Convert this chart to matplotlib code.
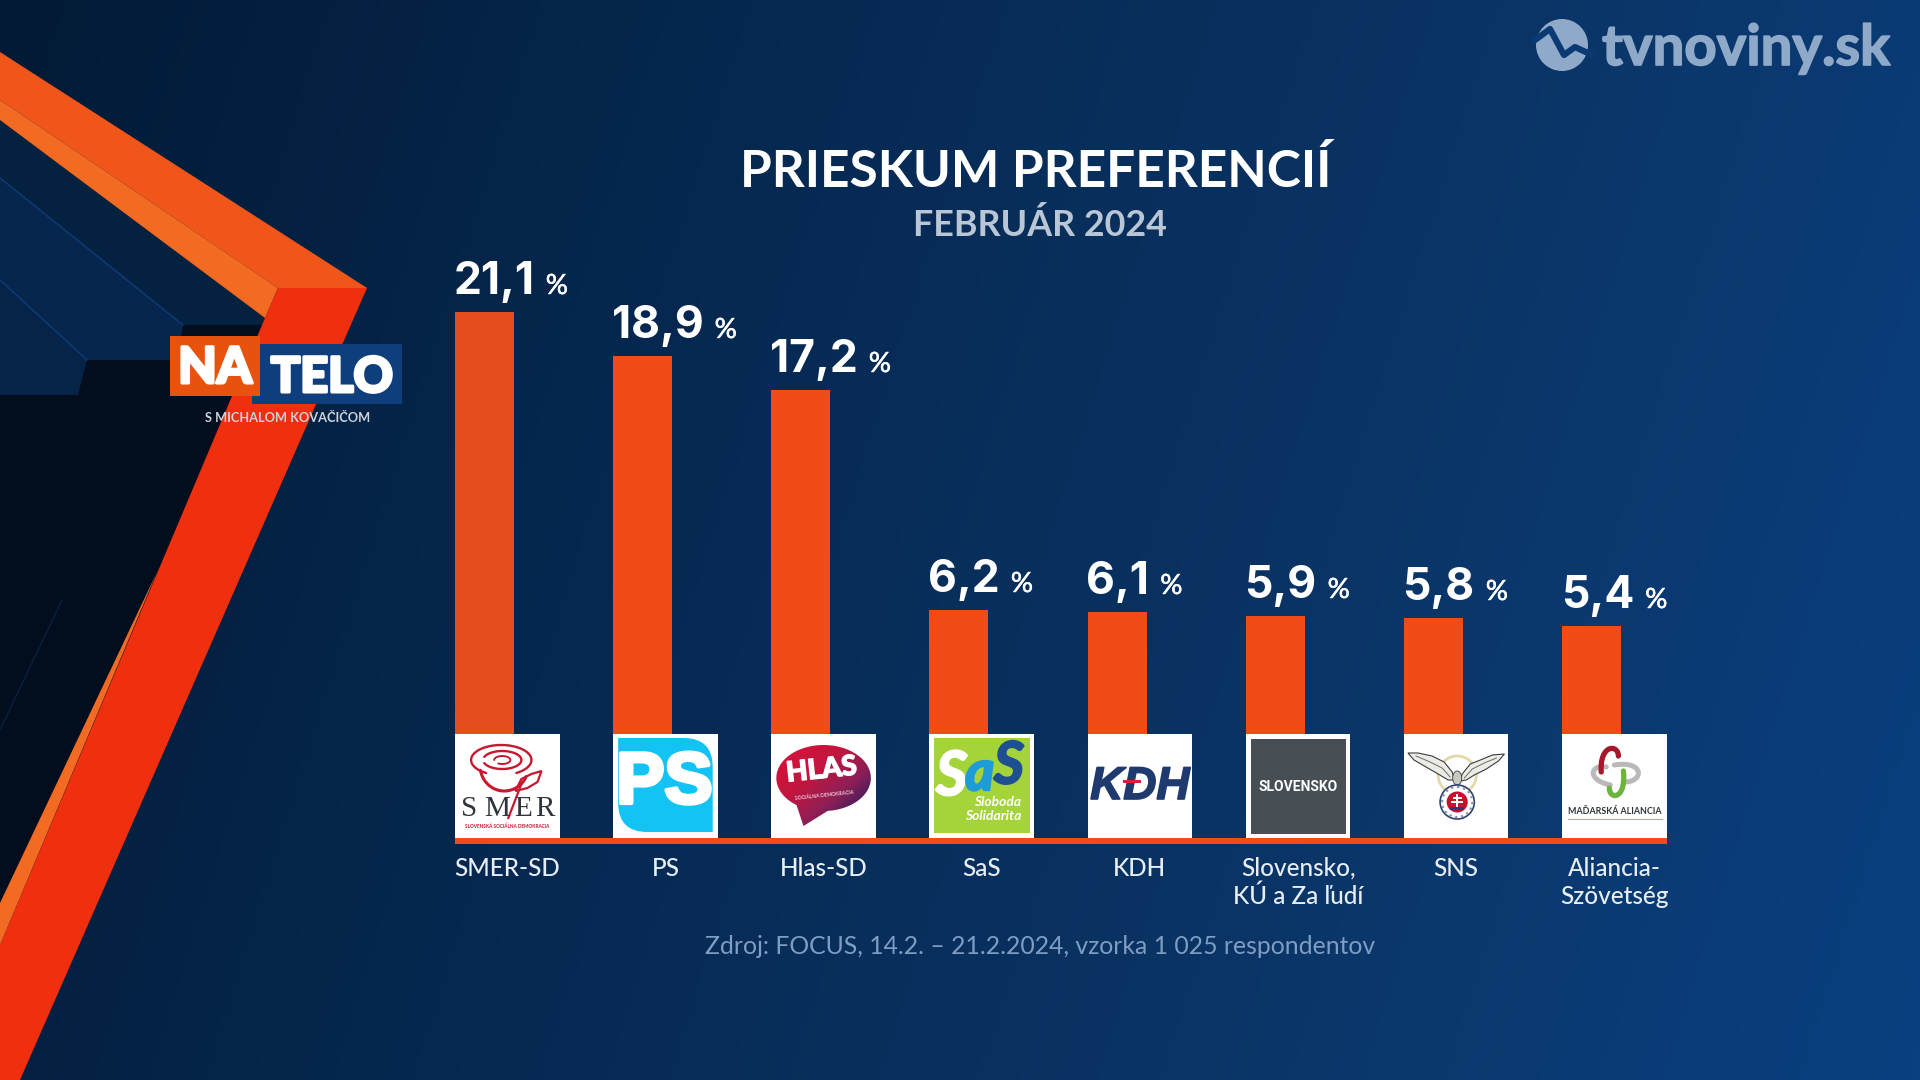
import numpy as np
import matplotlib
matplotlib.use("Agg")
import matplotlib.pyplot as plt
import matplotlib.patheffects as pe
from matplotlib.colors import LinearSegmentedColormap
from matplotlib.patches import Circle, Ellipse, PathPatch, Polygon, Rectangle
from matplotlib.path import Path

plt.rcParams["font.family"] = ["Lato", "DejaVu Sans"]

# Data
parties = ["SMER-SD", "PS", "Hlas-SD", "SaS", "KDH", "Slovensko,\nKÚ a Za ľudí", "SNS", "Aliancia-\nSzövetség"]
values = [21.1, 18.9, 17.2, 6.2, 6.1, 5.9, 5.8, 5.4]
bar_colors = ["#e64d1d", "#f04b18", "#f04b18", "#f04b18", "#f04b18", "#f04b18", "#f04b18", "#f04b18"]

title = "PRIESKUM PREFERENCIÍ"
subtitle = "FEBRUÁR 2024"
source = "Zdroj: FOCUS, 14.2. – 21.2.2024, vzorka 1 025 respondentov"

STEP = 158.15  # px between two parties
PX_PER_UNIT = 20.0


def thick(width, color="white"):
    # the fonts in the picture are heavier than Lato bold
    return [pe.withStroke(linewidth=width, foreground=color)]


fig = plt.figure(figsize=(19.2, 10.8), dpi=100)

# Background
bg = fig.add_axes([0, 0, 1, 1])
xx, yy = np.meshgrid(np.linspace(0, 1, 384), np.linspace(0, 1, 216))
grad = LinearSegmentedColormap.from_list("bg", ["#021a35", "#062850", "#0a3465", "#0b4080"])
bg.imshow(0.85 * xx + 0.15 * yy, cmap=grad, extent=(0, 1920, 1080, 0), aspect="auto", vmin=0, vmax=1)
bg.set_xlim(0, 1920)
bg.set_ylim(1080, 0)
bg.axis("off")


# Left side shapes
def poly(pts, color, z=1):
    bg.add_patch(Polygon(pts, closed=True, facecolor=color, edgecolor="none", zorder=z))


poly([(0, 120), (265, 318), (273, 325), (183, 325), (0, 178)], "#04213f")
poly([(0, 178), (183, 325), (178, 360), (87, 360), (0, 280)], "#06264d")
poly([(0, 280), (87, 360), (78, 395), (0, 395)], "#062447")
poly([(0, 395), (78, 395), (87, 360), (178, 360), (183, 325), (273, 325), (200, 480), (0, 945)], "#020e1e", 2)
bg.plot([0, 183], [178, 325], color="#0d3c7c", lw=1, zorder=3)
bg.plot([0, 87], [280, 360], color="#0d3c7c", lw=1, zorder=3)
bg.plot([62, 0], [600, 730], color="#07203f", lw=1, zorder=3)
poly([(0, 52), (367, 288), (278, 288), (0, 100)], "#f0561a", 4)
poly([(0, 100), (278, 288), (265, 318), (0, 120)], "#f36a22", 4)
poly([(278, 288), (367, 288), (20, 1080), (0, 1080), (0, 945), (265, 318)], "#ef2f0e", 4)
poly([(157, 572), (0, 903), (0, 945)], "#f36a22", 4)

# NA TELO logo
bg.add_patch(Rectangle((252, 344), 150, 60, facecolor="#0e3e7b", zorder=5))
bg.add_patch(Rectangle((170, 336), 90, 60, facecolor="#e8520f", zorder=6))
bg.text(215, 383, "NA", color="white", fontsize=36, fontweight=900, ha="center", va="baseline", zorder=7,
        path_effects=thick(2.2))
bg.text(332, 392, "TELO", color="white", fontsize=35, fontweight=900, ha="center", va="baseline", zorder=7,
        path_effects=thick(2.2))
bg.text(288, 418, "S MICHALOM KOVAČIČOM", color="#ccd3dc", fontsize=9.2, fontweight="bold", ha="center", va="center", zorder=7)

# tvnoviny.sk logo
wm = "#8fa9c9"
bg.add_patch(Circle((1562, 45), 26, facecolor=wm, edgecolor="none", zorder=2))
bg.plot([1535, 1550, 1564, 1575, 1590], [40, 29, 55, 47, 54], color="#0a3a74", lw=4.5, zorder=3, solid_joinstyle="round")
bg.text(1602, 65, "tvnoviny.sk", color=wm, fontsize=40.5, fontweight="bold", ha="left", va="baseline",
        path_effects=thick(1.2, wm))

# Titles
bg.text(1036, 187, title, color="white", fontsize=37, fontweight="bold", ha="center", va="baseline")
bg.text(1040, 236, subtitle, color="#b9c6d6", fontsize=25.8, fontweight="bold", ha="center", va="baseline")
bg.text(1040, 947, source, color="#7f9dc2", fontsize=17.8, ha="center", va="center")

# Bars
ax = fig.add_axes([455 / 1920, (1080 - 734) / 1080, 8 * STEP / 1920, 734 / 1080])
ax.patch.set_alpha(0)
x = np.arange(len(parties))
ax.bar(x, values, width=59 / STEP, align="edge", color=bar_colors)
ax.set_xlim(0, 8)
ax.set_ylim(0, 734 / PX_PER_UNIT)
for side in ax.spines.values():
    side.set_visible(False)
ax.set_yticks([])
tile_w = 104.6 / STEP
tile_h = 104 / PX_PER_UNIT
ax.set_xticks(x + tile_w / 2, parties, color="#e6edf5", fontsize=17.5, fontweight="medium", linespacing=1.25)
ax.tick_params(axis="x", length=0, pad=88.5)

# Orange line under the logos
ax.add_patch(Rectangle((0, -tile_h - 0.3), 7 + tile_w, 0.3, facecolor="#f04b18", clip_on=False))

# Value labels, the % sign follows the number
for i, val in enumerate(values):
    num = ax.annotate(f"{val:.1f}".replace(".", ","), xy=(i, val), xytext=(-1, 13), textcoords="offset points",
                      color="white", fontsize=32, fontweight="bold", family=["Inter", "Lato"], ha="left", va="baseline")
    ax.annotate("%", xy=(1, val), xycoords=(num, "data"), xytext=(8, 13), textcoords="offset points",
                color="white", fontsize=20, ha="left", va="baseline", path_effects=thick(0.4))


# Logos
def make_tile(i):
    t = ax.inset_axes([i, -tile_h, tile_w, tile_h], transform=ax.transData)
    t.set_xlim(0, 104)
    t.set_ylim(104, 0)
    t.axis("off")
    t.add_patch(Rectangle((0, 0), 104, 104, facecolor="white", edgecolor="none"))
    return t


def arc(t, cx, cy, a, b, t1, t2, color, lw):
    th = np.radians(np.linspace(t1, t2, 60))
    t.plot(cx + a * np.cos(th), cy + b * np.sin(th), color=color, lw=lw, solid_capstyle="round")


def curve(t, pts, color, lw):
    codes = [Path.MOVETO] + [Path.CURVE4] * (len(pts) - 1)
    t.add_patch(PathPatch(Path(pts, codes), facecolor="none", edgecolor=color, lw=lw, capstyle="round"))


# SMER
t = make_tile(0)
red = "#c8172f"
arc(t, 46, 26, 30, 15, 120, 420, red, 1.7)
arc(t, 47, 26, 19, 9, 200, 520, red, 1.7)
arc(t, 47, 26, 8, 4, 180, 480, red, 1.4)
arc(t, 49, 32, 24, 25, 25, 170, red, 2.2)
t.add_patch(Polygon([(60, 57), (66, 45), (76, 40), (86, 37), (82, 48), (72, 54)], facecolor="none", edgecolor=red, lw=1.6))
t.plot([66, 53], [50, 84], color=red, lw=1.6)
for letter, lx in zip("SMER", [14, 42, 68, 89]):
    t.text(lx, 75, letter, color="#30343c", fontsize=21, family="Liberation Serif", ha="center", va="center")
t.text(52, 92, "SLOVENSKÁ SOCIÁLNA DEMOKRACIA", color=red, fontsize=3.4, fontweight="bold", ha="center", va="center")

# PS
t = make_tile(1)
ps_pts = [(5, 4), (70, 4), (99, 4), (99, 33), (99, 98), (34, 98), (5, 98), (5, 69), (5, 4), (5, 4)]
ps_codes = [Path.MOVETO, Path.LINETO, Path.CURVE3, Path.CURVE3, Path.LINETO, Path.LINETO, Path.CURVE3, Path.CURVE3, Path.LINETO, Path.CLOSEPOLY]
t.add_patch(PathPatch(Path(ps_pts, ps_codes), facecolor="#12c3f4", edgecolor="none"))
t.text(51, 50, "PS", color="white", fontsize=52, fontweight="bold", family=["Liberation Sans Narrow", "Liberation Sans"],
       ha="center", va="center", path_effects=thick(3))

# Hlas
t = make_tile(2)
th = np.radians(np.linspace(125, 445, 120))
blob = np.column_stack([52 + 47 * np.cos(th), 44 + 33 * np.sin(th)])
blob = np.vstack([blob, [(32, 92)]])
hlas = LinearSegmentedColormap.from_list("hlas", ["#d4123a", "#c2163f", "#8e1f56", "#2c1b5e"])
gx, gy = np.meshgrid(np.linspace(0, 1, 60), np.linspace(0, 1, 60))
im = t.imshow(0.55 * gx + 0.6 * gy, cmap=hlas, extent=(0, 104, 104, 0), aspect="auto", vmin=0.2, vmax=0.95, zorder=2)
clip = Polygon(blob, closed=True, facecolor="none", edgecolor="none", transform=t.transData)
t.add_patch(clip)
im.set_clip_path(clip)
t.set_xlim(0, 104)
t.set_ylim(104, 0)
t.text(50, 36, "HLAS", color="white", fontsize=20, fontweight=900, ha="center", va="center", rotation=6, zorder=3,
       path_effects=thick(1))
t.text(53, 61, "SOCIÁLNA DEMOKRACIA", color="#f2c6d0", fontsize=3.6, fontweight="bold", ha="center", va="center", rotation=6, zorder=3)

# SaS
t = make_tile(3)
t.add_patch(Rectangle((5, 4), 95, 95, facecolor="#a5d33a", edgecolor="none"))
t.text(22, 43, "S", color="white", fontsize=44, fontweight="bold", style="italic", ha="center", va="center",
       path_effects=thick(1.5))
t.text(50, 40, "a", color="#1e9cd7", fontsize=40, fontweight="bold", style="italic", ha="center", va="center",
       path_effects=thick(1.8, "#1e9cd7"))
t.text(79, 33, "S", color="#1d4f91", fontsize=42, fontweight="bold", style="italic", ha="center", va="center",
       path_effects=thick(1.5, "#1d4f91"))
t.text(91, 68, "Sloboda", color="white", fontsize=10, fontweight="bold", style="italic", ha="right", va="center")
t.text(91, 82, "Solidarita", color="white", fontsize=10, fontweight="bold", style="italic", ha="right", va="center")

# KDH
t = make_tile(4)
t.text(52, 53, "KDH", color="#1f3a6e", fontsize=33, fontweight="bold", family="Liberation Sans", style="italic", ha="center", va="center",
       path_effects=thick(1.2, "#1f3a6e"))
t.add_patch(Rectangle((35, 45.5), 18, 3.5, facecolor="#d81e3a", edgecolor="none", zorder=5))

# Slovensko
t = make_tile(5)
t.add_patch(Rectangle((5, 5), 95, 95, facecolor="#474f55", edgecolor="none"))
t.text(52, 53, "SLOVENSKO", color="white", fontsize=10, fontweight="bold", family="Roboto", ha="center", va="center")

# SNS
t = make_tile(6)
t.add_patch(Circle((53, 41), 19, facecolor="none", edgecolor="#e3d9a8", lw=2))
for wing in ([(4, 19), (14, 19), (28, 22), (40, 28), (48, 38), (50, 46), (44, 46), (34, 40), (22, 33), (10, 26)],
             [(100, 20), (88, 21), (76, 26), (66, 30), (58, 40), (56, 47), (62, 46), (70, 41), (82, 35), (94, 27)]):
    t.add_patch(Polygon(wing, closed=True, facecolor="#ecece6", edgecolor="#3c3c3c", lw=0.8))
t.plot([12, 26, 38, 46], [22, 28, 34, 43], color="#6c6c6c", lw=0.7)
t.plot([92, 80, 68, 60], [24, 29, 35, 44], color="#6c6c6c", lw=0.7)
t.add_patch(Ellipse((53, 44), 9, 14, facecolor="#c9c9c2", edgecolor="#3c3c3c", lw=0.6))
t.add_patch(Circle((53, 68), 17, facecolor="white", edgecolor="#31416f", lw=1.2))
t.add_patch(Circle((53, 68), 15, facecolor="none", edgecolor="#8a93ad", lw=1.6, ls=":"))
t.add_patch(Circle((53, 68), 10.5, facecolor="#c8102e", edgecolor="none"))
t.add_patch(Rectangle((51.8, 60), 2.4, 14, facecolor="white", edgecolor="none"))
t.add_patch(Rectangle((48.5, 63), 9, 2, facecolor="white", edgecolor="none"))
t.add_patch(Rectangle((47, 67), 12, 2, facecolor="white", edgecolor="none"))
t.add_patch(Rectangle((46, 73), 14, 3, facecolor="#2a3c78", edgecolor="none"))

# Madarska aliancia
t = make_tile(7)
curve(t, [(44, 33), (28, 30), (24, 46), (48, 51)], "#b9b9b9", 3.6)
curve(t, [(52, 31), (82, 26), (82, 48), (62, 48)], "#b9b9b9", 3.6)
curve(t, [(39, 38), (37, 10), (56, 10), (56, 22)], "#a5182c", 3.8)
curve(t, [(61, 37), (64, 66), (47, 66), (47, 54)], "#6cb33f", 3.8)
t.text(52, 78, "MAĎARSKÁ ALIANCIA", color="#30343c", fontsize=6.4, fontweight="bold", ha="center", va="center")
t.plot([6, 99], [85, 85], color="#e89a5c", lw=0.8)

fig.savefig("out.png", dpi=100)
